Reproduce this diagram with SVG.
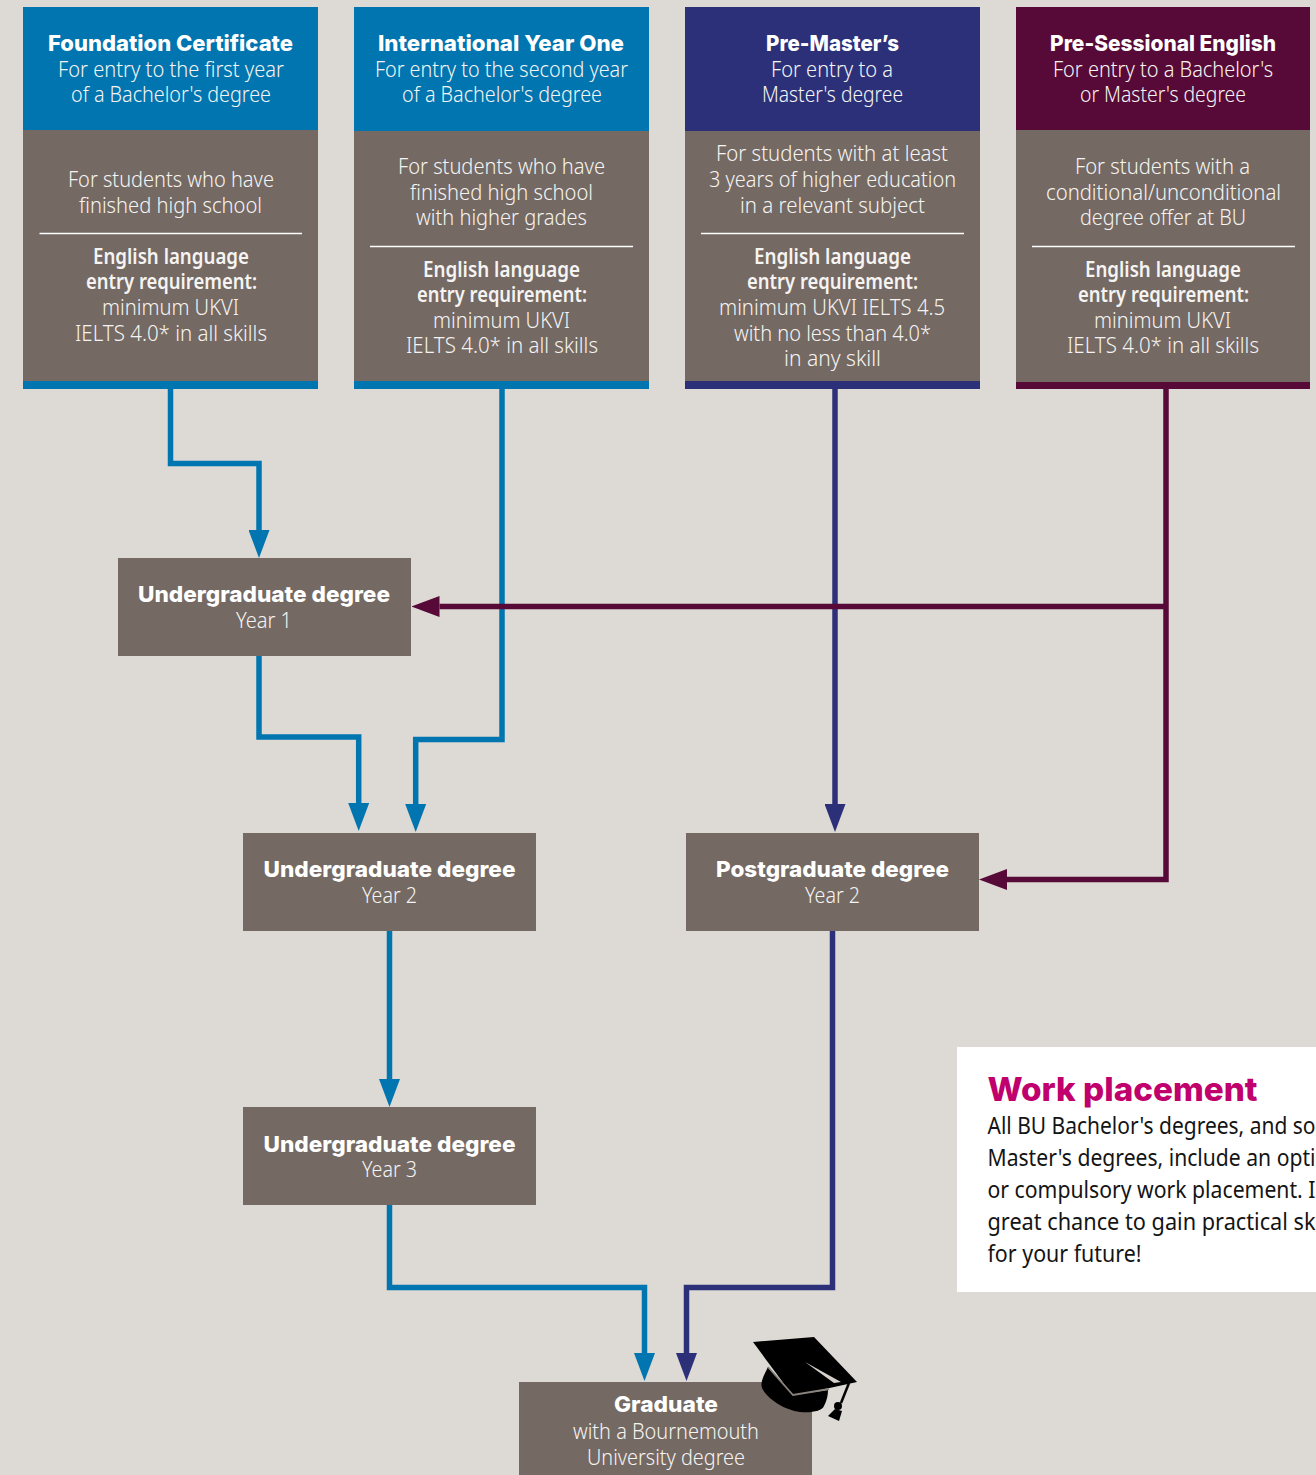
<svg xmlns="http://www.w3.org/2000/svg" width="1316" height="1475" viewBox="0 0 1316 1475">
<style>
text{font-family:"Noto Sans","Open Sans","Liberation Sans",sans-serif;font-size:21.5px;fill:#f6f4f2;font-weight:300}
.h{font-family:Inter,"Noto Sans","Liberation Sans",sans-serif;font-weight:800;font-size:22px;fill:#fff}
.b{font-weight:600}
.k{fill:#141414;font-size:24px;font-weight:400}
.wt{font-family:Inter,"Noto Sans",sans-serif;font-weight:800;font-size:33px;fill:#c0006c}
.g{fill:#746963}.bl{fill:#0075b0}.nv{fill:#2b3079}.mr{fill:#570a37}
.d{stroke:#fff;stroke-width:1.3;fill:none}
.c{fill:none;stroke-width:5.5;stroke-linejoin:miter}
.cb{stroke:#0075b0}.cn{stroke:#2b3079}.cm{stroke:#570a37}
</style>
<defs>
<marker id="ab" markerUnits="userSpaceOnUse" markerWidth="28" markerHeight="21" viewBox="0 0 28 21" refX="0" refY="10.5" orient="auto"><path d="M0 0L28 10.500L0 21Z" fill="#0075b0"/></marker>
<marker id="an" markerUnits="userSpaceOnUse" markerWidth="28" markerHeight="21" viewBox="0 0 28 21" refX="0" refY="10.5" orient="auto"><path d="M0 0L28 10.500L0 21Z" fill="#2b3079"/></marker>
<marker id="am" markerUnits="userSpaceOnUse" markerWidth="28" markerHeight="21" viewBox="0 0 28 21" refX="0" refY="10.5" orient="auto"><path d="M0 0L28 10.500L0 21Z" fill="#570a37"/></marker>
</defs>
<rect width="1316" height="1475" fill="#dddad5"/>
<g id="connectors">
<path class="c cb" d="M170.500 389V463.500H259V530" marker-end="url(#ab)"/>
<path class="c cb" d="M502 389V739.500H415.700V804" marker-end="url(#ab)"/>
<path class="c cb" d="M259 656V737H358.700V803" marker-end="url(#ab)"/>
<path class="c cn" d="M835 389V804" marker-end="url(#an)"/>
<path class="c cm" d="M1166 389V879.500H1007" marker-end="url(#am)"/>
<path class="c cm" d="M1166 606.500H439.500" marker-end="url(#am)"/>
<path class="c cb" d="M389.500 931V1079" marker-end="url(#ab)"/>
<path class="c cb" d="M389.500 1205V1287.500H644.500V1353" marker-end="url(#ab)"/>
<path class="c cn" d="M832.500 931V1287.500H686.500V1353" marker-end="url(#an)"/>
</g>
<g id="foundation">
<rect class="g" x="23" y="130" width="295" height="252"/><rect class="bl" x="23" y="7" width="295" height="123"/><rect class="bl" x="23" y="381" width="295" height="8"/>
<text class="h" x="48" y="51" textLength="245" lengthAdjust="spacingAndGlyphs">Foundation Certificate</text>
<text x="58" y="77" textLength="226" lengthAdjust="spacingAndGlyphs">For entry to the first year</text>
<text x="71" y="102" textLength="200" lengthAdjust="spacingAndGlyphs">of a Bachelor's degree</text>
<text x="68" y="187" textLength="206" lengthAdjust="spacingAndGlyphs">For students who have</text>
<text x="79" y="213" textLength="183" lengthAdjust="spacingAndGlyphs">finished high school</text>
<path class="d" d="M39.500 233.500H302"/>
<text class="b" x="93" y="264" textLength="156" lengthAdjust="spacingAndGlyphs">English language</text>
<text class="b" x="86" y="289" textLength="171" lengthAdjust="spacingAndGlyphs">entry requirement:</text>
<text x="102" y="315" textLength="137" lengthAdjust="spacingAndGlyphs">minimum UKVI</text>
<text x="75" y="341" textLength="192" lengthAdjust="spacingAndGlyphs">IELTS 4.0* in all skills</text>
</g>
<g id="international">
<rect class="g" x="354" y="131" width="295" height="251"/><rect class="bl" x="354" y="7" width="295" height="124"/><rect class="bl" x="354" y="381" width="295" height="8"/>
<text class="h" x="378" y="51" textLength="246" lengthAdjust="spacingAndGlyphs">International Year One</text>
<text x="375" y="77" textLength="253" lengthAdjust="spacingAndGlyphs">For entry to the second year</text>
<text x="402" y="102" textLength="200" lengthAdjust="spacingAndGlyphs">of a Bachelor's degree</text>
<text x="398" y="174" textLength="207" lengthAdjust="spacingAndGlyphs">For students who have</text>
<text x="410" y="200" textLength="183" lengthAdjust="spacingAndGlyphs">finished high school</text>
<text x="416" y="225" textLength="171" lengthAdjust="spacingAndGlyphs">with higher grades</text>
<path class="d" d="M370 246.500H633"/>
<text class="b" x="423" y="277" textLength="157" lengthAdjust="spacingAndGlyphs">English language</text>
<text class="b" x="417" y="302" textLength="170" lengthAdjust="spacingAndGlyphs">entry requirement:</text>
<text x="433" y="328" textLength="137" lengthAdjust="spacingAndGlyphs">minimum UKVI</text>
<text x="406" y="353" textLength="192" lengthAdjust="spacingAndGlyphs">IELTS 4.0* in all skills</text>
</g>
<g id="premasters">
<rect class="g" x="685" y="131" width="295" height="251"/><rect class="nv" x="685" y="7" width="295" height="124"/><rect class="nv" x="685" y="381" width="295" height="8"/>
<text class="h" x="766" y="51" textLength="133" lengthAdjust="spacingAndGlyphs">Pre-Master’s</text>
<text x="771" y="77" textLength="122" lengthAdjust="spacingAndGlyphs">For entry to a</text>
<text x="762" y="102" textLength="141" lengthAdjust="spacingAndGlyphs">Master's degree</text>
<text x="716" y="161" textLength="232" lengthAdjust="spacingAndGlyphs">For students with at least</text>
<text x="709" y="187" textLength="247" lengthAdjust="spacingAndGlyphs">3 years of higher education</text>
<text x="740" y="213" textLength="185" lengthAdjust="spacingAndGlyphs">in a relevant subject</text>
<path class="d" d="M701 233.500H964"/>
<text class="b" x="754" y="264" textLength="157" lengthAdjust="spacingAndGlyphs">English language</text>
<text class="b" x="747" y="289" textLength="171" lengthAdjust="spacingAndGlyphs">entry requirement:</text>
<text x="719" y="315" textLength="226" lengthAdjust="spacingAndGlyphs">minimum UKVI IELTS 4.5</text>
<text x="734" y="341" textLength="197" lengthAdjust="spacingAndGlyphs">with no less than 4.0*</text>
<text x="784" y="366" textLength="97" lengthAdjust="spacingAndGlyphs">in any skill</text>
</g>
<g id="presessional">
<rect class="g" x="1016" y="130" width="294" height="252"/><rect class="mr" x="1016" y="7" width="294" height="123"/><rect class="mr" x="1016" y="382" width="294" height="7"/>
<text class="h" x="1050" y="51" textLength="226" lengthAdjust="spacingAndGlyphs">Pre-Sessional English</text>
<text x="1053" y="77" textLength="220" lengthAdjust="spacingAndGlyphs">For entry to a Bachelor's</text>
<text x="1080" y="102" textLength="166" lengthAdjust="spacingAndGlyphs">or Master's degree</text>
<text x="1075" y="174" textLength="175" lengthAdjust="spacingAndGlyphs">For students with a</text>
<text x="1046" y="200" textLength="235" lengthAdjust="spacingAndGlyphs">conditional/unconditional</text>
<text x="1080" y="225" textLength="166" lengthAdjust="spacingAndGlyphs">degree offer at BU</text>
<path class="d" d="M1032 246.500H1295"/>
<text class="b" x="1085" y="277" textLength="156" lengthAdjust="spacingAndGlyphs">English language</text>
<text class="b" x="1078" y="302" textLength="171" lengthAdjust="spacingAndGlyphs">entry requirement:</text>
<text x="1094" y="328" textLength="137" lengthAdjust="spacingAndGlyphs">minimum UKVI</text>
<text x="1067" y="353" textLength="192" lengthAdjust="spacingAndGlyphs">IELTS 4.0* in all skills</text>
</g>
<g id="ug1">
<rect class="g" x="118" y="558" width="293" height="98"/>
<text class="h" x="138" y="602" textLength="252" lengthAdjust="spacingAndGlyphs">Undergraduate degree</text>
<text x="236" y="628" textLength="56" lengthAdjust="spacingAndGlyphs">Year 1</text>
</g>
<g id="ug2">
<rect class="g" x="243" y="833" width="293" height="98"/>
<text class="h" x="263.500" y="877" textLength="252" lengthAdjust="spacingAndGlyphs">Undergraduate degree</text>
<text x="362" y="903" textLength="55" lengthAdjust="spacingAndGlyphs">Year 2</text>
</g>
<g id="pg2">
<rect class="g" x="686" y="833" width="293" height="98"/>
<text class="h" x="716" y="877" textLength="233" lengthAdjust="spacingAndGlyphs">Postgraduate degree</text>
<text x="805" y="903" textLength="55" lengthAdjust="spacingAndGlyphs">Year 2</text>
</g>
<g id="ug3">
<rect class="g" x="243" y="1107" width="293" height="98"/>
<text class="h" x="263.500" y="1152" textLength="252" lengthAdjust="spacingAndGlyphs">Undergraduate degree</text>
<text x="362" y="1177" textLength="55" lengthAdjust="spacingAndGlyphs">Year 3</text>
</g>
<g id="graduate">
<rect class="g" x="519" y="1382" width="293" height="93"/>
<text class="h" x="614" y="1412" textLength="104" lengthAdjust="spacingAndGlyphs">Graduate</text>
<text x="573" y="1439" textLength="186" lengthAdjust="spacingAndGlyphs">with a Bournemouth</text>
<text x="587" y="1465" textLength="158" lengthAdjust="spacingAndGlyphs">University degree</text>
</g>
<g id="cap">
<path d="M768 1367C764 1375 760 1382 762 1388C768 1400 785 1410 800 1412C812 1413 822 1411 824 1406C827 1400 828 1395 828 1390L793 1395Z" fill="#000"/>
<path d="M753 1342L814 1337L857 1382L793 1396Z" fill="#000"/>
<path d="M768 1367L793 1395L829 1389" fill="none" stroke="#8a837d" stroke-width="1.8"/>
<path d="M805 1362L841 1382L834 1383Z" fill="#d5d0cb"/>
<path d="M849 1383L841 1403" fill="none" stroke="#000" stroke-width="2.500"/>
<circle cx="838" cy="1406" r="4" fill="#000"/>
<path d="M835 1409L828 1416L839 1421L842 1411Z" fill="#000"/>
</g>
<g id="work-placement">
<rect x="957" y="1047" width="359" height="245" fill="#fff"/>
<text class="wt" x="987.500" y="1101" textLength="270" lengthAdjust="spacingAndGlyphs">Work placement</text>
<text class="k" x="987.500" y="1134" textLength="328" lengthAdjust="spacingAndGlyphs">All BU Bachelor's degrees, and so</text>
<text class="k" x="987.500" y="1166" textLength="328" lengthAdjust="spacingAndGlyphs">Master's degrees, include an opti</text>
<text class="k" x="987.500" y="1198" textLength="328" lengthAdjust="spacingAndGlyphs">or compulsory work placement. I</text>
<text class="k" x="987.500" y="1230" textLength="328" lengthAdjust="spacingAndGlyphs">great chance to gain practical sk</text>
<text class="k" x="987.500" y="1262" textLength="154" lengthAdjust="spacingAndGlyphs">for your future!</text>
</g>
</svg>
